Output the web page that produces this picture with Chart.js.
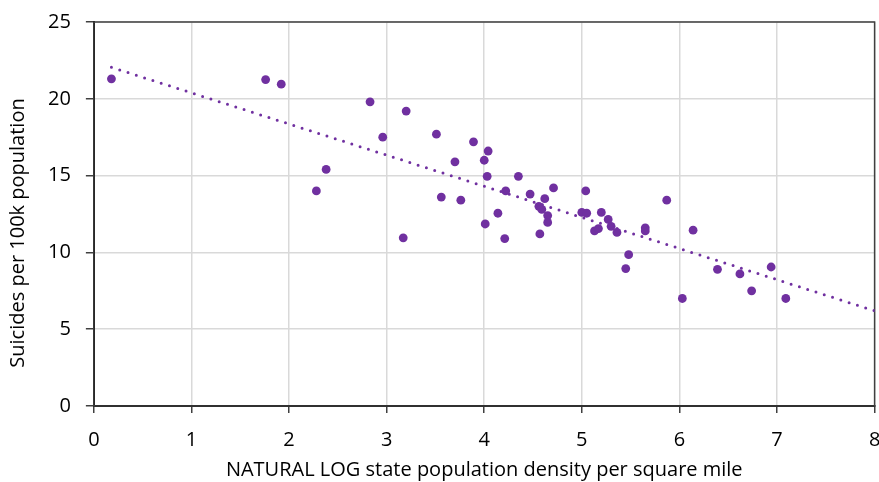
<!DOCTYPE html>
<html>
<head>
<meta charset="utf-8">
<script src="https://cdn.jsdelivr.net/npm/chart.js@4.4.1/dist/chart.umd.min.js"></script>
<style>
  html, body { margin: 0; padding: 0; background: #fff; }
  #wrap { width: 879px; height: 482px; position: relative; }
</style>
</head>
<body>
<div id="wrap"><canvas id="chart"></canvas></div>
<script>
// natural log of state population density (x) vs suicides per 100k (y)
const logDensity = [
  0.18, 1.76, 1.92, 2.83, 3.20, 2.96, 2.28, 2.38, 3.17, 3.51,
  3.89, 4.04, 4.00, 3.70, 4.03, 3.56, 3.76, 4.01, 4.21, 4.14,
  4.22, 4.35, 4.47, 4.56, 4.59, 4.62, 4.71, 4.65, 4.65, 4.57,
  5.00, 5.04, 5.05, 5.20, 5.13, 5.17, 5.27, 5.30, 5.36, 5.48,
  5.45, 5.65, 5.65, 5.87, 6.14, 6.03, 6.39, 6.62, 6.74, 6.94,
  7.09
];
const suicideRate = [
  21.3, 21.25, 20.95, 19.8, 19.2, 17.5, 14.0, 15.4, 10.95, 17.7,
  17.2, 16.6, 16.0, 15.9, 14.95, 13.6, 13.4, 11.85, 10.9, 12.55,
  14.0, 14.95, 13.8, 13.0, 12.8, 13.5, 14.2, 12.4, 11.95, 11.2,
  12.6, 14.0, 12.55, 12.6, 11.4, 11.55, 12.15, 11.7, 11.3, 9.85,
  8.95, 11.6, 11.4, 13.4, 11.45, 7.0, 8.9, 8.6, 7.5, 9.05,
  7.0
];
// linear trendline end points
const trendX = [0.18, 8];
const trendY = [22.05, 6.2];

const xTicks = [0, 1, 2, 3, 4, 5, 6, 7, 8];
const yTicks = [0, 5, 10, 15, 20, 25];

const purple = '#7030a0';
const fontFamily = '"Open Sans", Lato, sans-serif';
const yTitle = 'Suicides per 100k population';

const points = logDensity.map((x, i) => ({ x: x, y: suicideRate[i] }));
const trend = trendX.map((x, i) => ({ x: x, y: trendY[i] }));

// outer frame of the plot area (top and right edges)
const frame = {
  id: 'frame',
  beforeDatasetsDraw(chart) {
    const a = chart.chartArea;
    const ctx = chart.ctx;
    ctx.save();
    ctx.strokeStyle = '#404040';
    ctx.lineWidth = 1.5;
    ctx.strokeRect(a.left, a.top, a.right - a.left, a.bottom - a.top);
    ctx.restore();
  }
};

// y axis title, sits a little below the middle of the axis like the original
const sideTitle = {
  id: 'sideTitle',
  afterDraw(chart) {
    const ctx = chart.ctx;
    ctx.save();
    ctx.translate(18, 233);
    ctx.rotate(-Math.PI / 2);
    ctx.font = '20px ' + fontFamily;
    ctx.fillStyle = '#000';
    ctx.textAlign = 'center';
    ctx.textBaseline = 'middle';
    ctx.fillText(yTitle, 0, 0);
    ctx.restore();
  }
};

new Chart(document.getElementById('chart'), {
  type: 'scatter',
  data: {
    datasets: [
      {
        data: points,
        backgroundColor: purple,
        borderWidth: 0,
        pointRadius: 4.4,
        order: 1
      },
      {
        type: 'line',
        data: trend,
        borderColor: purple,
        borderWidth: 3,
        borderDash: [0, 8.7],
        borderCapStyle: 'round',
        pointRadius: 0,
        fill: false,
        order: 2
      }
    ]
  },
  options: {
    responsive: true,
    maintainAspectRatio: false,
    animation: false,
    layout: { padding: { top: 22, right: 4, bottom: 0, left: 33 } },
    plugins: {
      legend: { display: false },
      tooltip: { enabled: false }
    },
    scales: {
      x: {
        type: 'linear',
        min: 0,
        max: 8,
        afterBuildTicks: s => { s.ticks = xTicks.map(v => ({ value: v })); },
        afterFit: s => { s.paddingRight = 0; s.paddingLeft = 0; },
        ticks: {
          color: '#000',
          font: { family: fontFamily, size: 20 },
          padding: 15
        },
        grid: {
          color: '#d9d9d9',
          lineWidth: 1.5,
          tickColor: '#404040',
          tickLength: 7
        },
        border: { color: '#000', width: 2 },
        title: {
          display: true,
          text: 'NATURAL LOG state population density per square mile',
          color: '#000',
          font: { family: fontFamily, size: 20 },
          padding: { top: -9, bottom: 0 }
        }
      },
      y: {
        min: 0,
        max: 25,
        afterBuildTicks: s => { s.ticks = yTicks.map(v => ({ value: v })); },
        afterFit: s => { s.paddingTop = 0; s.paddingBottom = 0; },
        ticks: {
          color: '#000',
          font: { family: fontFamily, size: 20 },
          padding: 15
        },
        grid: {
          color: '#d9d9d9',
          lineWidth: 1.5,
          tickColor: '#404040',
          tickLength: 8
        },
        border: { color: '#000', width: 2 }
      }
    }
  },
  plugins: [frame, sideTitle]
});
</script>
</body>
</html>
